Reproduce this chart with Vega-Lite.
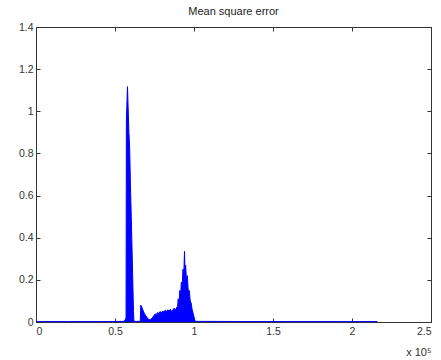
{
  "$schema": "https://vega.github.io/schema/vega-lite/v6.json",
  "width": 395,
  "height": 295,
  "autosize": {"type": "none"},
  "padding": {"left": 36, "top": 27, "right": 10, "bottom": 38},
  "title": {
    "text": "Mean square error",
    "font": "Liberation Sans",
    "fontSize": 11,
    "fontWeight": "normal",
    "color": "#222222",
    "offset": 5
  },
  "data": {
    "values": [
      {"sample": 0, "mse": 0.002},
      {"sample": 20000, "mse": 0.002},
      {"sample": 40000, "mse": 0.002},
      {"sample": 55800, "mse": 0.003},
      {"sample": 56500, "mse": 0.012},
      {"sample": 57000, "mse": 0.02},
      {"sample": 57200, "mse": 0.95},
      {"sample": 57600, "mse": 1.05},
      {"sample": 57900, "mse": 1.117},
      {"sample": 58300, "mse": 1.02},
      {"sample": 58800, "mse": 0.9},
      {"sample": 59300, "mse": 0.82},
      {"sample": 59800, "mse": 0.64},
      {"sample": 60300, "mse": 0.5},
      {"sample": 60800, "mse": 0.34},
      {"sample": 61300, "mse": 0.18},
      {"sample": 61700, "mse": 0.05},
      {"sample": 62000, "mse": 0.003},
      {"sample": 66000, "mse": 0.003},
      {"sample": 66300, "mse": 0.08},
      {"sample": 67000, "mse": 0.07},
      {"sample": 67800, "mse": 0.055},
      {"sample": 68600, "mse": 0.04},
      {"sample": 69500, "mse": 0.03},
      {"sample": 70400, "mse": 0.02},
      {"sample": 71300, "mse": 0.012},
      {"sample": 72200, "mse": 0.01},
      {"sample": 73000, "mse": 0.016},
      {"sample": 73800, "mse": 0.022},
      {"sample": 74600, "mse": 0.03},
      {"sample": 75400, "mse": 0.038},
      {"sample": 76200, "mse": 0.036},
      {"sample": 77000, "mse": 0.045},
      {"sample": 77800, "mse": 0.04},
      {"sample": 78600, "mse": 0.05},
      {"sample": 79400, "mse": 0.044},
      {"sample": 80200, "mse": 0.052},
      {"sample": 81000, "mse": 0.047},
      {"sample": 81800, "mse": 0.056},
      {"sample": 82600, "mse": 0.05},
      {"sample": 83400, "mse": 0.058},
      {"sample": 84200, "mse": 0.052},
      {"sample": 85000, "mse": 0.06},
      {"sample": 85800, "mse": 0.05},
      {"sample": 86600, "mse": 0.058},
      {"sample": 87400, "mse": 0.065},
      {"sample": 88200, "mse": 0.055},
      {"sample": 89000, "mse": 0.07},
      {"sample": 89500, "mse": 0.06},
      {"sample": 90000, "mse": 0.11},
      {"sample": 90500, "mse": 0.08},
      {"sample": 91000, "mse": 0.15},
      {"sample": 91500, "mse": 0.12},
      {"sample": 92000, "mse": 0.19},
      {"sample": 92500, "mse": 0.16},
      {"sample": 93000, "mse": 0.25},
      {"sample": 93500, "mse": 0.22},
      {"sample": 94000, "mse": 0.335},
      {"sample": 94300, "mse": 0.24},
      {"sample": 94700, "mse": 0.27},
      {"sample": 95200, "mse": 0.2},
      {"sample": 95800, "mse": 0.22},
      {"sample": 96400, "mse": 0.14},
      {"sample": 97000, "mse": 0.15},
      {"sample": 97600, "mse": 0.1},
      {"sample": 98200, "mse": 0.09},
      {"sample": 98800, "mse": 0.06},
      {"sample": 99500, "mse": 0.04},
      {"sample": 100200, "mse": 0.018},
      {"sample": 100700, "mse": 0.003},
      {"sample": 150000, "mse": 0.002},
      {"sample": 216000, "mse": 0.002}
    ]
  },
  "layer": [
    {
      "mark": {"type": "area", "color": "#0000ff", "opacity": 1},
      "encoding": {
        "x": {
          "field": "sample",
          "type": "quantitative",
          "scale": {"domain": [0, 250000], "nice": false},
          "axis": {
            "orient": "bottom",
            "values": [0, 50000, 100000, 150000, 200000, 250000],
            "labelExpr": "'' + datum.value / 100000",
            "labelPadding": 8,
            "title": "x 10⁵",
            "titleX": 395,
            "titleY": 30,
            "titleAlign": "right",
            "titleBaseline": "middle",
            "titleFontSize": 11,
            "titleFontWeight": "normal",
            "titleFont": "Liberation Sans",
            "titleColor": "#333333"
          }
        },
        "y": {
          "field": "mse",
          "type": "quantitative",
          "scale": {"domain": [0, 1.4], "nice": false},
          "axis": {
            "orient": "left",
            "values": [0, 0.2, 0.4, 0.6, 0.8, 1, 1.2, 1.4],
            "format": "~g",
            "labelPadding": 7,
            "title": null
          }
        }
      }
    },
    {
      "mark": {"type": "line", "color": "#0000ff", "strokeWidth": 1},
      "encoding": {
        "x": {
          "field": "sample",
          "type": "quantitative",
          "scale": {"domain": [0, 250000], "nice": false},
          "axis": {
            "orient": "top",
            "values": [0, 50000, 100000, 150000, 200000, 250000],
            "labels": false,
            "title": null
          }
        },
        "y": {
          "field": "mse",
          "type": "quantitative",
          "scale": {"domain": [0, 1.4], "nice": false},
          "axis": {
            "orient": "right",
            "values": [0, 0.2, 0.4, 0.6, 0.8, 1, 1.2, 1.4],
            "labels": false,
            "title": null
          }
        }
      }
    }
  ],
  "resolve": {"axis": {"x": "independent", "y": "independent"}},
  "config": {
    "view": {"stroke": "#333333", "strokeWidth": 1},
    "axis": {
      "grid": false,
      "domainColor": "#333333",
      "tickColor": "#333333",
      "tickSize": -4,
      "labelFont": "Liberation Sans",
      "labelFontSize": 10.5,
      "labelColor": "#333333",
      "labelPadding": 6
    }
  }
}
